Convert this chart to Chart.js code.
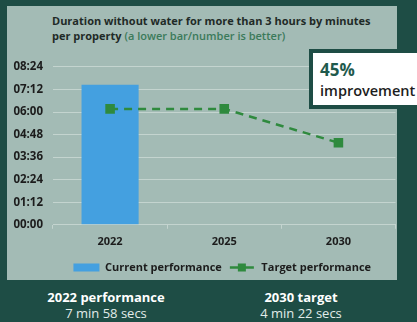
<!DOCTYPE html>
<html>
<head>
<meta charset="utf-8">
<script src="https://cdn.jsdelivr.net/npm/chart.js@4.4.1/dist/chart.umd.min.js"></script>
<style>
  body { margin:0; width:417px; height:322px; background:#1e4d45; font-family:"Open Sans", sans-serif; position:relative; overflow:hidden; }
  .panel { position:absolute; left:7px; top:6px; width:390px; height:274px; background:#a3bbb5; }
  .title { position:absolute; left:52px; top:13px; font-size:11px; font-weight:700; color:#1f2a27; line-height:15px; white-space:nowrap; }
  .title span { color:#3b7a5a; font-weight:600; }
  #wrap { position:absolute; left:7px; top:50px; width:396px; height:233px; }
  .callout { position:absolute; left:309px; top:49px; width:120px; height:52px; background:#fff; border:4px solid #1e4d45; }
  .callout .pct { position:absolute; left:7px; top:5px; font-size:17px; font-weight:700; color:#1f5a4d; }
  .callout .imp { position:absolute; left:7px; top:28px; font-size:14.5px; font-weight:600; color:#1d1d1d; }
  .stat { position:absolute; top:289px; width:180px; text-align:center; color:#fff; line-height:16px; }
  .stat b { display:block; font-size:13px; font-weight:700; }
  .stat span { display:block; font-size:13px; color:#e2ece9; }
</style>
</head>
<body>
<div class="panel"></div>
<div class="title">Duration without water for more than 3 hours by minutes<br>per property <span>(a lower bar/number is better)</span></div>
<div id="wrap"><canvas id="durationChart"></canvas></div>
<div class="callout"><div class="pct">45%</div><div class="imp">improvement</div></div>
<div class="stat" style="left:16px"><b>2022 performance</b><span>7 min 58 secs</span></div>
<div class="stat" style="left:211px"><b>2030 target</b><span>4 min 22 secs</span></div>

<script>
// values in seconds
const years = ['2022', '2025', '2030'];
const currentPerformance = [447, null, null];
const targetPerformance = [370, 370, 262];
const yMax = 504;
const yStep = 72;

function mmss(v) {
  const m = Math.floor(v / 60), s = v % 60;
  return String(m).padStart(2, '0') + ':' + String(s).padStart(2, '0');
}

// legend sits centred under the plot area, not the whole canvas
const legendShift = {
  id: 'legendShift',
  afterLayout(chart) {
    const lg = chart.legend;
    const shift = (chart.chartArea.left + chart.chartArea.right) / 2 - (lg.left + lg.right) / 2 - 2;
    lg.left += shift;
    lg.right += shift;
  }
};

// draws the dashed line + square marker in the legend
const legendLine = {
  id: 'legendLine',
  afterDraw(chart) {
    const items = chart.legend.legendItems;
    const i = items.findIndex(it => it.datasetIndex === 1);
    const hb = chart.legend.legendHitBoxes[i];
    if (!hb) return;
    const ctx = chart.ctx;
    const y = hb.top + hb.height / 2;
    ctx.save();
    ctx.strokeStyle = '#2f8a3e';
    ctx.lineWidth = 2.5;
    ctx.beginPath();
    ctx.moveTo(hb.left, y);
    ctx.lineTo(hb.left + 24, y);
    ctx.stroke();
    ctx.fillStyle = '#2f8a3e';
    ctx.fillRect(hb.left + 8, y - 4, 8, 8);
    ctx.restore();
  }
};

const durationChart = document.getElementById('durationChart');

new Chart(durationChart, {
  type: 'bar',
  data: {
    labels: years,
    datasets: [{
      label: 'Current performance',
      data: currentPerformance,
      backgroundColor: '#44a0e0',
      barPercentage: 0.5,
      categoryPercentage: 1,
      order: 1
    }, {
      type: 'line',
      label: 'Target performance',
      data: targetPerformance,
      borderColor: '#2f8a3e',
      backgroundColor: '#2f8a3e',
      borderWidth: 2.5,
      borderDash: [8, 6],
      pointStyle: 'rect',
      pointRadius: 5,
      fill: false,
      tension: 0,
      order: 0
    }]
  },
  options: {
    responsive: true,
    maintainAspectRatio: false,
    animation: false,
    layout: { padding: { top: 13, right: 0, left: 0, bottom: 0 } },
    scales: {
      y: {
        min: 0,
        max: yMax,
        afterFit: s => { s.width = 46; },
        ticks: {
          stepSize: yStep,
          callback: v => mmss(v),
          color: '#1c1c1c',
          padding: 10,
          font: { family: 'Open Sans', size: 11.5, weight: '700' }
        },
        grid: { color: '#c4d4cf', drawTicks: false },
        border: { display: false }
      },
      x: {
        offset: true,
        afterFit: s => { s.paddingLeft = 0; s.paddingRight = 0; },
        grid: { drawOnChartArea: false, tickLength: 4, color: '#c4d4cf' },
        border: { color: '#c4d4cf' },
        ticks: {
          color: '#1c1c1c',
          padding: 6,
          font: { family: 'Open Sans', size: 11, weight: '700' }
        }
      }
    },
    plugins: {
      tooltip: { enabled: false },
      legend: {
        position: 'bottom',
        labels: {
          boxWidth: 26,
          boxHeight: 8,
          padding: 8,
          color: '#1c1c1c',
          font: { family: 'Open Sans', size: 11, weight: '700' },
          sort: (a, b) => a.datasetIndex - b.datasetIndex,
          generateLabels(chart) {
            const items = Chart.defaults.plugins.legend.labels.generateLabels(chart);
            items.forEach(it => {
              if (it.datasetIndex === 0) {
                it.lineWidth = 0;
              } else {
                it.fillStyle = 'rgba(0,0,0,0)';
                it.strokeStyle = 'rgba(0,0,0,0)';
                it.lineDash = [];
              }
            });
            return items;
          }
        }
      }
    }
  },
  plugins: [legendShift, legendLine]
});
</script>
</body>
</html>
